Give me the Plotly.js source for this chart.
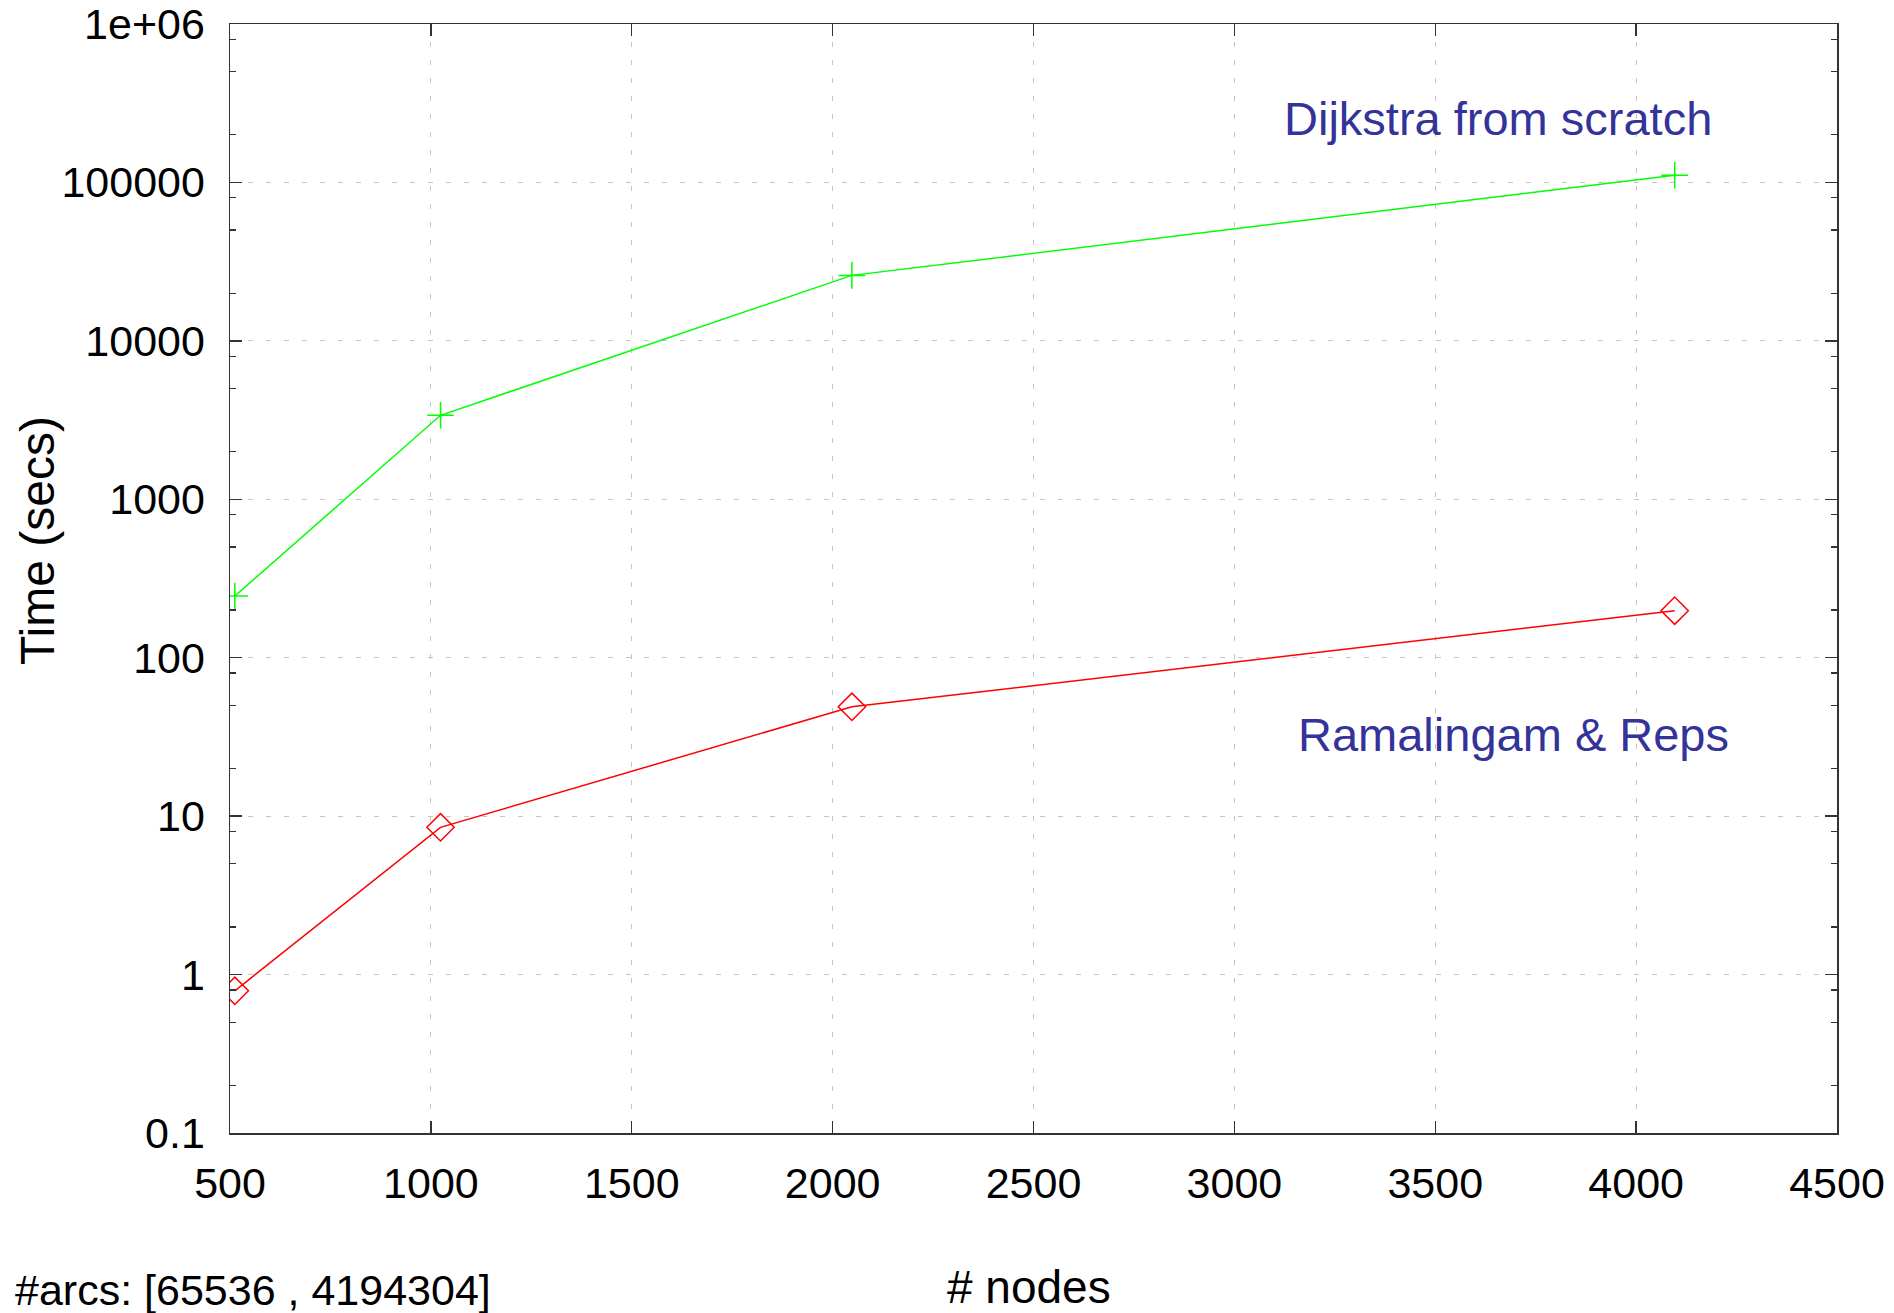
<!DOCTYPE html>
<html>
<head>
<meta charset="utf-8">
<script src="https://cdn.plot.ly/plotly-3.0.1.min.js"></script>
<style>html,body{margin:0;padding:0;background:#fff;}#chart{width:1894px;height:1313px;}</style>
</head>
<body>
<div id="chart"></div>
<script>
// ---- data ----
var nodes = [512, 1024, 2048, 4096];
var dijkstraTimes = [245, 3390, 25900, 111000];
var ramalingamTimes = [0.79, 8.5, 49, 198];
var seriesNames = ["Dijkstra from scratch", "Ramalingam & Reps"];
var xTickVals = [500, 1000, 1500, 2000, 2500, 3000, 3500, 4000, 4500];
var xTickText = ["500", "1000", "1500", "2000", "2500", "3000", "3500", "4000", "4500"];
var yTickVals = [0.1, 1, 10, 100, 1000, 10000, 100000, 1000000];
var yTickText = ["0.1", "1", "10", "100", "1000", "10000", "100000", "1e+06"];
var yMinorMultipliers = [2, 5, 8];
var xTitle = "# nodes";
var yTitle = "Time (secs)";
var noteText = "#arcs: [65536 , 4194304]";

// minor tick positions (2,5,8 per decade)
var yMinor = [];
for (var i = 0; i < yTickVals.length - 1; i++) {
  yMinorMultipliers.forEach(function (m) { yMinor.push(yTickVals[i] * m); });
}

var FONT = "'Liberation Sans', Arial, Helvetica, sans-serif";
var AX = "#333333";
var GRID = "#c4c4c4";

var traces = [
  {
    x: nodes, y: dijkstraTimes, name: seriesNames[0], type: "scatter", mode: "lines+markers",
    line: {color: "#00ff00", width: 1.5},
    marker: {symbol: "cross-thin-open", size: 19, color: "#00ff00", line: {color: "#00ff00", width: 1.5}}
  },
  {
    x: nodes, y: ramalingamTimes, name: seriesNames[1], type: "scatter", mode: "lines+markers",
    line: {color: "#ff0000", width: 1.5},
    marker: {symbol: "diamond-open", size: 21, color: "#ff0000", line: {color: "#ff0000", width: 1.5}}
  }
];

var layout = {
  width: 1894, height: 1313,
  margin: {l: 230, r: 57, t: 24, b: 180, pad: 0},
  paper_bgcolor: "#ffffff", plot_bgcolor: "#ffffff",
  showlegend: false,
  font: {family: FONT, size: 43, color: "#000000"},
  xaxis: {
    range: [500, 4500], tickmode: "array", tickvals: xTickVals, ticktext: xTickText,
    ticks: "inside", ticklen: 12, tickwidth: 1.3, tickcolor: AX,
    showline: true, linecolor: AX, linewidth: 1.5, mirror: "allticks",
    showgrid: true, gridcolor: GRID, gridwidth: 1, griddash: "5px,13px",
    zeroline: false, tickfont: {family: FONT, size: 43, color: "#000"},
    ticklabelstandoff: 12
  },
  yaxis: {
    type: "log", range: [-1, 6], tickmode: "array", tickvals: yTickVals, ticktext: yTickText,
    ticks: "inside", ticklen: 12, tickwidth: 1.3, tickcolor: AX,
    showline: true, linecolor: AX, linewidth: 1.5, mirror: "allticks",
    showgrid: true, gridcolor: GRID, gridwidth: 1, griddash: "5px,13px",
    zeroline: false, tickfont: {family: FONT, size: 43, color: "#000"},
    ticklabelstandoff: 15,
    minor: {tickmode: "array", tickvals: yMinor, ticks: "inside", ticklen: 6, tickwidth: 1.3, tickcolor: AX, showgrid: false}
  },
  annotations: [
    {text: seriesNames[0], xref: "paper", yref: "paper", x: 0.789, y: 0.9146, xanchor: "center", yanchor: "middle",
     showarrow: false, font: {family: FONT, size: 47, color: "#333399"}},
    {text: seriesNames[1].replace("&", "&amp;"), xref: "paper", yref: "paper", x: 0.7986, y: 0.3594, xanchor: "center", yanchor: "middle",
     showarrow: false, font: {family: FONT, size: 47, color: "#333399"}},
    {text: yTitle, xref: "paper", yref: "paper", x: -0.1201, y: 0.5347, xanchor: "center", yanchor: "middle", textangle: -90,
     showarrow: false, font: {family: FONT, size: 48, color: "#000"}},
    {text: xTitle, xref: "paper", yref: "paper", x: 0.4971, y: -0.1390, xanchor: "center", yanchor: "middle",
     showarrow: false, font: {family: FONT, size: 46, color: "#000"}},
    {text: noteText, xref: "paper", yref: "paper", x: -0.1350, y: -0.1415, xanchor: "left", yanchor: "middle",
     showarrow: false, font: {family: FONT, size: 43, color: "#000"}}
  ]
};

Plotly.newPlot("chart", traces, layout, {displayModeBar: false, staticPlot: true});
</script>
</body>
</html>
